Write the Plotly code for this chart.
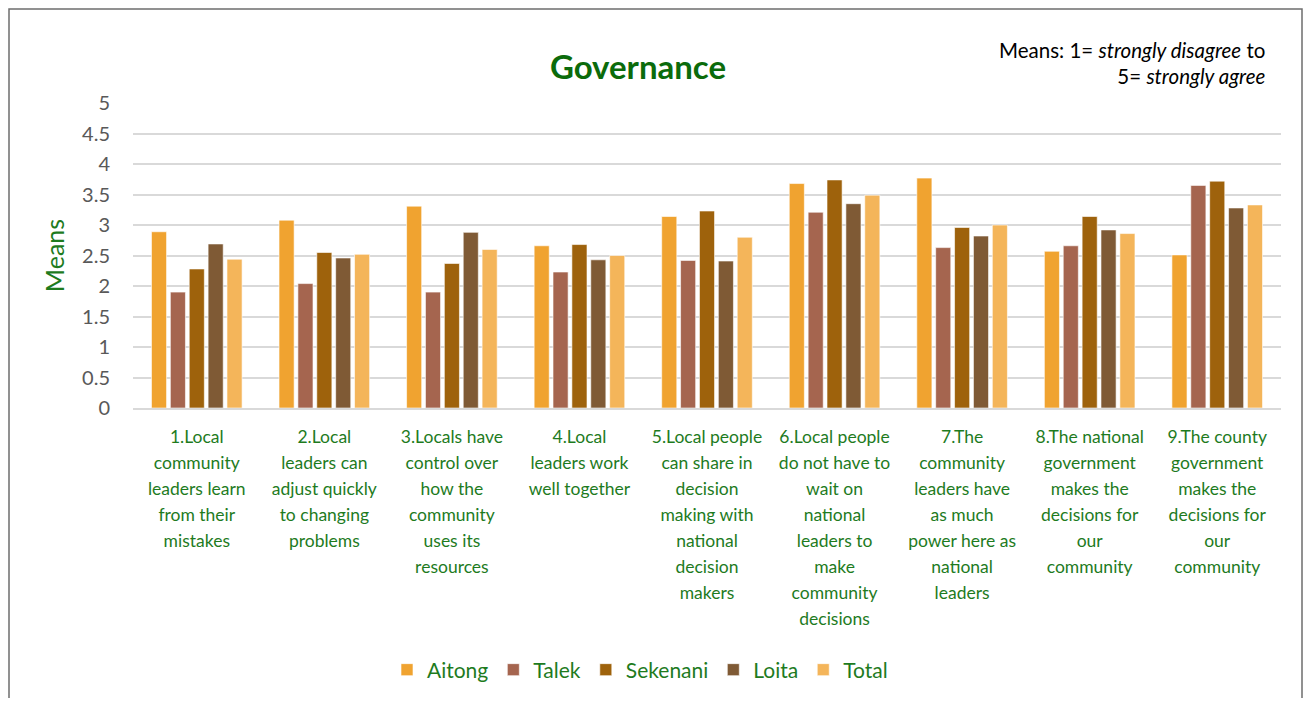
import plotly.graph_objects as go

# categories (survey statements)
categories = [
    "1.Local<br>community<br>leaders learn<br>from their<br>mistakes",
    "2.Local<br>leaders can<br>adjust quickly<br>to changing<br>problems",
    "3.Locals have<br>control over<br>how the<br>community<br>uses its<br>resources",
    "4.Local<br>leaders work<br>well together",
    "5.Local people<br>can share in<br>decision<br>making with<br>national<br>decision<br>makers",
    "6.Local people<br>do not have to<br>wait on<br>national<br>leaders to<br>make<br>community<br>decisions",
    "7.The<br>community<br>leaders have<br>as much<br>power here as<br>national<br>leaders",
    "8.The national<br>government<br>makes the<br>decisions for<br>our<br>community",
    "9.The county<br>government<br>makes the<br>decisions for<br>our<br>community",
]

aitong = [2.89, 3.08, 3.31, 2.66, 3.14, 3.68, 3.77, 2.57, 2.51]
talek = [1.90, 2.04, 1.90, 2.23, 2.42, 3.21, 2.63, 2.66, 3.65]
sekenani = [2.28, 2.55, 2.37, 2.68, 3.23, 3.74, 2.96, 3.14, 3.72]
loita = [2.69, 2.46, 2.88, 2.43, 2.41, 3.35, 2.82, 2.92, 3.28]
total = [2.44, 2.52, 2.60, 2.50, 2.80, 3.49, 3.00, 2.86, 3.33]

y_ticks = [0, 0.5, 1, 1.5, 2, 2.5, 3, 3.5, 4, 4.5, 5]

series = [
    ("Aitong", aitong, "#F0A330"),
    ("Talek", talek, "#A5654F"),
    ("Sekenani", sekenani, "#9E620C"),
    ("Loita", loita, "#7F5A35"),
    ("Total", total, "#F4B55A"),
]

FONT = "Lato"
GREEN = "#1E7B1E"

x_idx = list(range(len(categories)))

fig = go.Figure()
for name, vals, color in series:
    fig.add_trace(go.Bar(
        x=x_idx, y=vals, name=name,
        marker=dict(color=color, line=dict(color="rgba(255,255,255,0.6)", width=1)),
    ))

# tick labels: larger outer font gives wider line spacing, inner span sets glyph size
SPAN = '<span style="font-size:17.5px">'
tick_text = [SPAN + c.replace("<br>", "</span><br>" + SPAN) + "</span>" for c in categories]

# the page has an 8px body margin, so work in screen pixels and shift
OFF = 8
W, H = 1312 - 2 * OFF, 706 - 2 * OFF
L, T = 133 - OFF, 103 - OFF
R = W - (1281 - OFF)
B = H - (408 - OFF)
pw, ph = W - L - R, H - T - B


def px(x):
    return (x - OFF - L) / pw


def py(y):
    return (H - B - (y - OFF)) / ph


fig.update_layout(
    width=W, height=H,
    margin=dict(l=L, r=R, t=T, b=B),
    paper_bgcolor="white", plot_bgcolor="white",
    font=dict(family=FONT, color="#595959"),
    barmode="group", bargap=0.26, bargroupgap=0.2,
    title=dict(text="<b>Governance</b>", x=(638 - OFF) / W, xanchor="center",
               y=1 - (67 - OFF) / H, yanchor="middle",
               font=dict(family=FONT, size=33, color="#0B6B0B")),
    legend=dict(orientation="h", xref="container", x=(640 - OFF) / W, xanchor="center",
                yref="container", y=1 - (670 - OFF) / H, yanchor="middle",
                font=dict(family=FONT, size=21, color=GREEN), itemwidth=30, tracegroupgap=0),
    showlegend=True,
)

fig.update_xaxes(
    tickmode="array", tickvals=x_idx, ticktext=tick_text,
    tickfont=dict(family=FONT, size=20, color=GREEN),
    showgrid=False, showline=True, linecolor="#D9D9D9", linewidth=1.5,
    tickangle=0, range=[-0.5, len(categories) - 0.5],
    ticklabelstandoff=9,
)
fig.update_yaxes(
    range=[0, 5.001], tickvals=y_ticks, ticktext=[f"{v:g}" for v in y_ticks],
    tickfont=dict(family=FONT, size=20, color="#595959"),
    showgrid=True, gridcolor="#D9D9D9", gridwidth=1.5, zeroline=False,
    ticklabelstandoff=22,
    title=dict(text="Means", font=dict(family=FONT, size=25, color=GREEN), standoff=10),
)

fig.add_annotation(
    xref="paper", yref="paper", x=px(1268), y=py(36), xanchor="right", yanchor="top",
    align="right", showarrow=False,
    text='<span style="font-size:20.5px">Means: 1= <i>strongly disagree</i> to</span><br>'
         '<span style="font-size:20.5px">5= <i>strongly agree</i></span>',
    font=dict(family=FONT, size=20, color="#000000"),
)

# outer chart border
fig.add_shape(type="rect", xref="paper", yref="paper",
              x0=px(9), x1=px(1302), y0=py(740), y1=py(9),
              line=dict(color="#6E6E6E", width=1.5), layer="below")

fig.write_html("out.html")
